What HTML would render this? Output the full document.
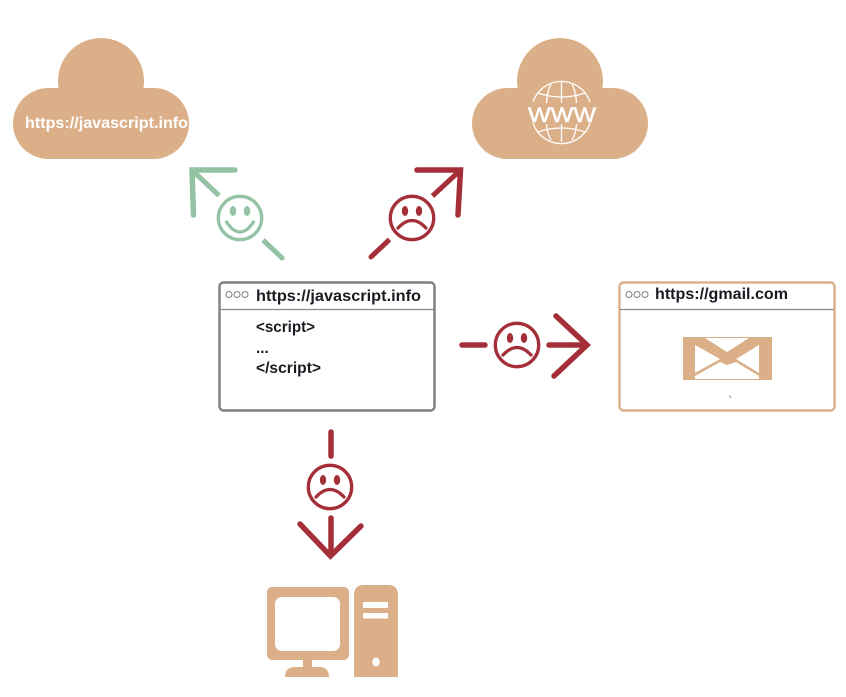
<!DOCTYPE html>
<html>
<head>
<meta charset="utf-8">
<style>
html,body{margin:0;padding:0;background:#fff;width:846px;height:697px;overflow:hidden}
svg{display:block}
text{font-family:"Liberation Sans",sans-serif}
.b{font-weight:bold;fill:#181c22;font-size:16px}
.c{font-weight:bold;fill:#181c22;font-size:15.300px}
</style>
</head>
<body>
<svg width="846" height="697" viewBox="0 0 846 697" xmlns="http://www.w3.org/2000/svg">
<defs>
<g id="cloud" fill="#dbaf88">
<circle cx="88" cy="43" r="43"/>
<rect x="0" y="50" width="176" height="71" rx="35.500"/>
</g>
</defs>

<use href="#cloud" x="13" y="38"/>
<text x="25" y="128" font-size="16" font-weight="bold" fill="#fff" textLength="163" lengthAdjust="spacingAndGlyphs">https://javascript.info</text>

<use href="#cloud" x="472" y="38"/>
<g fill="none" stroke="#fff" stroke-width="1.300">
<path d="M561.500 82V103M561.500 124V142"/>
<path d="M533 102A30 30 0 0 1 590 102M533 123A30 30 0 0 0 590 123"/>
<path d="M538 93Q561.500 101 585 93M538 132Q561.500 124 585 132"/>
<path d="M551 84Q547 92 546.500 103M572 84Q576 92 576.500 103M546.500 124Q547 133 551 140M576.500 124Q576 133 572 140"/>
</g>
<text x="528" y="122" font-size="21" fill="#fff" stroke="#fff" stroke-width="0.500" textLength="68" lengthAdjust="spacingAndGlyphs">WWW</text>

<!-- green arrow -->
<g fill="none" stroke="#93c2a4" stroke-width="5.500" stroke-linecap="round" stroke-linejoin="miter" stroke-miterlimit="6">
<path d="M235 170H192L193.500 215"/>
</g>
<g fill="none" stroke="#93c2a4" stroke-width="5" stroke-linecap="butt">
<path d="M194 172L219 195.500"/>
<path d="M263 240L281 257" />
<path d="M281 257L282 258" stroke-linecap="round"/>
</g>
<g fill="none" stroke="#93c2a4" stroke-width="3.300">
<circle cx="240" cy="218" r="21.700"/>
<path d="M226.500 222Q240 242 253.500 222" stroke-linecap="round"/>
</g>
<ellipse cx="233" cy="211" rx="3.200" ry="5" fill="#93c2a4"/>
<ellipse cx="247" cy="211" rx="3.200" ry="5" fill="#93c2a4"/>

<!-- red arrow top -->
<g fill="none" stroke="#a52f38" stroke-width="5.500" stroke-linecap="round" stroke-linejoin="miter" stroke-miterlimit="6">
<path d="M417 170H460.500L458 215"/>
</g>
<g fill="none" stroke="#a52f38" stroke-width="5" stroke-linecap="butt">
<path d="M460 170.500L432.500 196"/>
<path d="M389.500 239.500L372 256"/>
<path d="M372 256L371 257" stroke-linecap="round"/>
</g>
<g id="sad1">
<circle cx="412" cy="218" r="21.700" fill="none" stroke="#a52f38" stroke-width="3.300"/>
<path d="M398 228Q412 213 426 228" fill="none" stroke="#a52f38" stroke-width="3.300" stroke-linecap="round"/>
<ellipse cx="405" cy="211" rx="3.200" ry="5" fill="#a52f38"/>
<ellipse cx="419" cy="211" rx="3.200" ry="5" fill="#a52f38"/>
</g>

<!-- red arrow right -->
<g fill="none" stroke="#a52f38" stroke-width="5.500" stroke-linecap="round" stroke-linejoin="miter" stroke-miterlimit="6">
<path d="M462 345H485"/>
<path d="M549 345H585"/>
<path d="M556 316L587 345L554 376"/>
</g>
<use href="#sad1" x="105" y="127"/>

<!-- red arrow down -->
<g fill="none" stroke="#a52f38" stroke-width="5.500" stroke-linecap="round" stroke-linejoin="miter" stroke-miterlimit="6">
<path d="M331 432V456"/>
<path d="M331 518V555"/>
<path d="M300 524L330.500 556L361 526"/>
</g>
<use href="#sad1" x="-82" y="269"/>

<!-- box 1 -->
<rect x="219.500" y="282.500" width="215" height="128" rx="4" fill="#fff" stroke="#7f7f7f" stroke-width="2.400"/>
<path d="M220 309.500H434" stroke="#8a8a8a" stroke-width="1.200"/>
<g fill="none" stroke="#7f7f7f" stroke-width="1">
<circle cx="229" cy="294.500" r="3"/><circle cx="237" cy="294.500" r="3"/><circle cx="245" cy="294.500" r="3"/>
</g>
<text class="b" x="256" y="301" textLength="165" lengthAdjust="spacingAndGlyphs">https://javascript.info</text>
<text class="c" x="256" y="332" textLength="59" lengthAdjust="spacingAndGlyphs">&lt;script&gt;</text>
<text class="c" x="256" y="353">...</text>
<text class="c" x="256" y="373" textLength="65" lengthAdjust="spacingAndGlyphs">&lt;/script&gt;</text>

<!-- box 2 -->
<rect x="619.500" y="282.500" width="215" height="128" rx="4" fill="#fff" stroke="#dbaf88" stroke-width="2.400"/>
<path d="M620 309.500H834" stroke="#8a8a8a" stroke-width="1.200"/>
<g fill="none" stroke="#7f7f7f" stroke-width="1">
<circle cx="629" cy="294.500" r="3"/><circle cx="637" cy="294.500" r="3"/><circle cx="645" cy="294.500" r="3"/>
</g>
<text class="b" x="655" y="299" textLength="133" lengthAdjust="spacingAndGlyphs">https://gmail.com</text>
<!-- envelope -->
<rect x="683" y="337" width="89" height="43" fill="#dbaf88"/>
<g fill="#fff">
<path d="M705 338H749L727 352Z"/>
<path d="M695 345L720 359L695 373Z"/>
<path d="M759 345L736 359L759 373Z"/>
<path d="M695 376L720 362L727 365L736 362L759 376V379H695Z"/>
</g>
<path d="M729 395.500L731 398" stroke="#777" stroke-width="0.800"/>

<!-- computer -->
<g fill="#dbaf88">
<rect x="267" y="587" width="82" height="73" rx="5"/>
<rect x="303" y="658" width="9" height="11"/>
<path d="M285 677Q285 667 295 667H319Q329 667 329 677Z"/>
<path d="M354 677V595Q354 585 364 585H388Q398 585 398 595V677Z"/>
</g>
<rect x="275" y="597" width="65" height="54" rx="7" fill="#fff"/>
<rect x="363" y="602" width="25" height="6" fill="#fff"/>
<rect x="363" y="613" width="25" height="5.500" fill="#fff"/>
<ellipse cx="376" cy="662" rx="3.800" ry="4.500" fill="#fff"/>
</svg>
</body>
</html>
